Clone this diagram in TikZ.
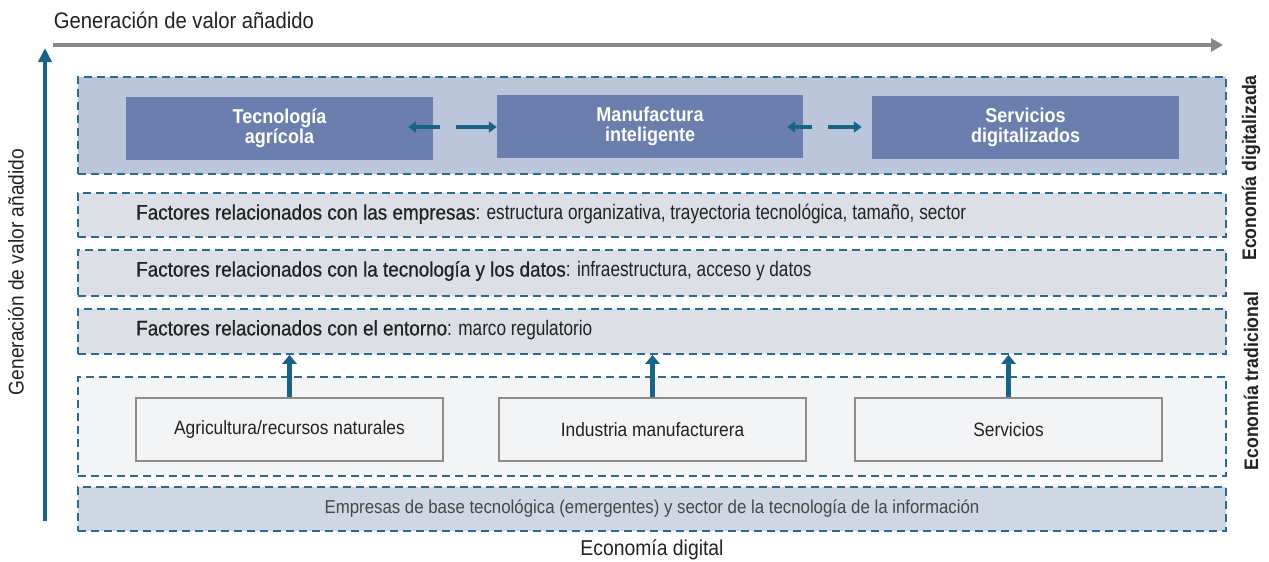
\documentclass[tikz,border=0pt]{standalone}
\usepackage{fontspec}
\setmainfont{Liberation Sans}[FakeStretch=0.9]
\newfontfamily\thinfam{Liberation Sans}[FakeStretch=0.82]
\usetikzlibrary{arrows.meta}

\definecolor{dashblue}{HTML}{2B6A8E}
\definecolor{arrowblue}{HTML}{1B6385}
\definecolor{topfill}{HTML}{BCC6DA}
\definecolor{darkfill}{HTML}{6A7FAD}
\definecolor{factfill}{HTML}{DCDFE6}
\definecolor{tradfill}{HTML}{F3F4F6}
\definecolor{basefill}{HTML}{CFD6E4}
\definecolor{axisgray}{HTML}{888888}
\definecolor{boxgray}{HTML}{8C8C8C}
\definecolor{ink}{HTML}{222222}

\newcommand{\lead}[1]{{\addfontfeature{FakeBold=0.6}#1}}
\newcommand{\rest}[1]{{\thinfam #1}}

\begin{document}
\begin{tikzpicture}[x=1pt, y=-1pt, every node/.style={text=ink},
	zone/.style={draw=dashblue, dash pattern=on 8pt off 5pt, line width=1.6pt, inner sep=0pt, minimum width=1148pt},
	darkbox/.style={fill=darkfill, inner sep=0pt, minimum width=307pt, minimum height=63pt, text=white, align=center, font=\fontsize{20}{20}\selectfont\bfseries},
	sectorbox/.style={draw=boxgray, fill=tradfill, line width=1.8pt, inner sep=0pt, minimum width=307pt, minimum height=63pt, font=\fontsize{19.3}{22}\selectfont},
	factor/.style={anchor=west, inner sep=0pt, font=\fontsize{21}{24}\selectfont},
	flow/.style={arrowblue, line width=3.5pt, -{Triangle[length=8pt,width=11pt]}},
	uparrow/.style={arrowblue, line width=4.5pt, -{Triangle[length=9pt,width=14pt]}}]
	\useasboundingbox (0,0) rectangle (1269,562);

	% axes
	\node (ttl) at (184,20) {\fontsize{22.5}{24}\selectfont Generación de valor añadido};
	\coordinate (h0) at (53,45);
	\coordinate (h1) at (1223,45);
	\draw[axisgray, line width=4.5pt, -{Triangle[length=12pt,width=13pt]}] (h0) -- (h1);
	\coordinate (v0) at (45,521);
	\coordinate (v1) at (45,48);
	\draw[arrowblue, line width=4pt, -{Triangle[length=14pt,width=13pt]}] (v0) -- (v1);
	\node[rotate=90] (vlbl) at (16,272) {\fontsize{21.3}{24}\selectfont Generación de valor añadido};

	% economia digitalizada
	\node[zone, fill=topfill, minimum height=97pt] (top) at (652,125.5) {};
	\node[darkbox] (b1) at (279.5,128) {Tecnología\\agrícola};
	\node[darkbox, minimum width=306pt] (b2) at (650,126.5) {Manufactura\\inteligente};
	\node[darkbox] (b3) at (1025.5,127) {Servicios\\digitalizados};
	\coordinate (m12) at (448,127);
	\coordinate (m23) at (820,127);
	\draw[flow] ([xshift=-8]m12) -- ([xshift=-25]b1.east |- m12);
	\draw[flow] ([xshift=8]m12) -- (b2.west |- m12);
	\draw[flow] ([xshift=-8]m23) -- ([xshift=-16]b2.east |- m23);
	\draw[flow] ([xshift=8]m23) -- ([xshift=-10]b3.west |- m23);

	% factores
	\node[zone, fill=factfill, minimum height=44pt] (f1) at (652,215) {};
	\node[zone, fill=factfill, minimum height=46pt] (f2) at (652,273) {};
	\node[zone, fill=factfill, minimum height=45pt] (f3) at (652,331.5) {};
	\node[factor] (t1) at (136,214) {\lead{Factores relacionados con las empresas}\rest{: estructura organizativa, trayectoria tecnológica, tamaño, sector}};
	\node[factor] (t2) at (136,271) {\lead{Factores relacionados con la tecnología y los datos}\rest{: infraestructura, acceso y datos}};
	\node[factor] (t3) at (136,330) {\lead{Factores relacionados con el entorno}\rest{: marco regulatorio}};

	% economia tradicional
	\node[zone, fill=tradfill, minimum height=99pt] (trad) at (652,426.5) {};
	\node[sectorbox] (s1) at (289.5,429.5) {Agricultura/recursos naturales};
	\node[sectorbox] (s2) at (652.5,429.5) {Industria manufacturera};
	\node[sectorbox] (s3) at (1008.5,429.5) {Servicios};
	\draw[uparrow] (s1.north) -- (s1.north |- f3.south);
	\draw[uparrow] (s2.north) -- (s2.north |- f3.south);
	\draw[uparrow] (s3.north) -- (s3.north |- f3.south);

	% base
	\node[zone, fill=basefill, minimum height=44pt, font=\fontsize{18.7}{22}\selectfont, text=black!72] (base) at (652,509) {Empresas de base tecnológica (emergentes) y sector de la tecnología de la información};
	\node (dig) at (652,550) {\fontsize{21.5}{24}\selectfont Economía digital};

	% etiquetas laterales
	\node[rotate=90, font=\fontsize{19.6}{22}\selectfont\bfseries] (ldig) at (1251,168) {Economía digitalizada};
	\node[rotate=90, font=\fontsize{19.6}{22}\selectfont\bfseries] (ltrad) at (1251,381) {Economía tradicional};
\end{tikzpicture}
\end{document}
